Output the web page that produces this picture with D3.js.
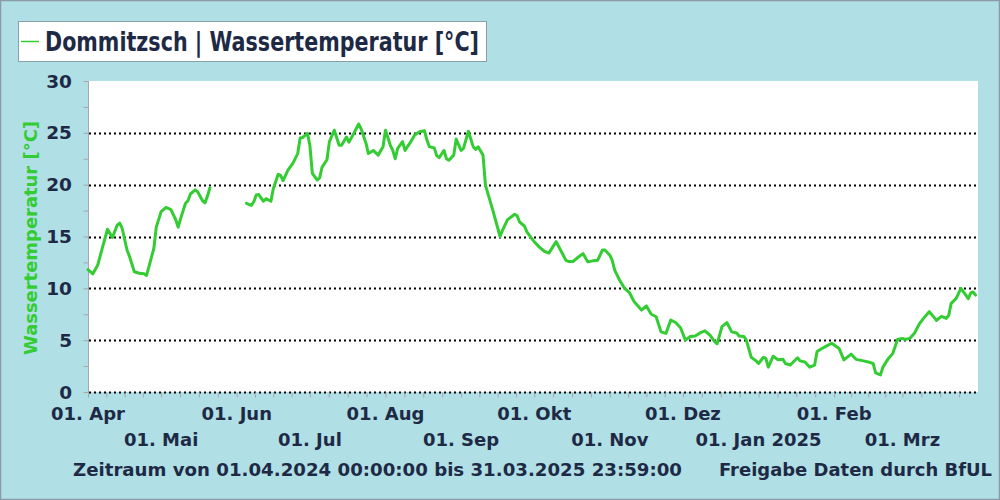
<!DOCTYPE html>
<html><head><meta charset="utf-8">
<script src="https://cdn.jsdelivr.net/npm/d3@7"></script>
<style>html,body{margin:0;padding:0;background:#fff;}svg{display:block;}</style>
</head><body>
<script>
const titleText = "Dommitzsch | Wassertemperatur [°C]";
const yAxisTitle = "Wassertemperatur [°C]";
const footerLeft = "Zeitraum von 01.04.2024 00:00:00 bis 31.03.2025 23:59:00";
const footerRight = "Freigabe Daten durch BfUL";
const yTicks = [0, 5, 10, 15, 20, 25, 30];
const monthTicks = ["2024-04-01","2024-05-01","2024-06-01","2024-07-01","2024-08-01","2024-09-01","2024-10-01","2024-11-01","2024-12-01","2025-01-01","2025-02-01","2025-03-01"];
const monthLabels = ["01. Apr","01. Mai","01. Jun","01. Jul","01. Aug","01. Sep","01. Okt","01. Nov","01. Dez","01. Jan 2025","01. Feb","01. Mrz"];
const dates = [
"2024-04-01","2024-04-03","2024-04-05","2024-04-07","2024-04-09","2024-04-11","2024-04-13","2024-04-14","2024-04-15","2024-04-17","2024-04-18","2024-04-20","2024-04-22","2024-04-24","2024-04-25","2024-04-26","2024-04-28","2024-04-29",
"2024-05-01","2024-05-03","2024-05-05","2024-05-07","2024-05-08","2024-05-09","2024-05-11","2024-05-12","2024-05-13","2024-05-15","2024-05-16","2024-05-18","2024-05-19","2024-05-20","2024-05-21","2024-05-22",
"2024-06-05","2024-06-07","2024-06-08","2024-06-09","2024-06-10","2024-06-12","2024-06-13","2024-06-15","2024-06-16","2024-06-18","2024-06-19","2024-06-20","2024-06-22","2024-06-24","2024-06-26","2024-06-27","2024-06-28","2024-06-30",
"2024-07-01","2024-07-02","2024-07-04","2024-07-05","2024-07-06","2024-07-08","2024-07-09","2024-07-11","2024-07-13","2024-07-14","2024-07-16","2024-07-17","2024-07-19","2024-07-21","2024-07-22","2024-07-24","2024-07-25","2024-07-27","2024-07-29","2024-07-31",
"2024-08-01","2024-08-03","2024-08-04","2024-08-05","2024-08-06","2024-08-08","2024-08-09","2024-08-11","2024-08-13","2024-08-15","2024-08-17","2024-08-18","2024-08-19","2024-08-21","2024-08-22","2024-08-23","2024-08-25","2024-08-26","2024-08-27","2024-08-29","2024-08-30",
"2024-09-01","2024-09-02","2024-09-04","2024-09-06","2024-09-07","2024-09-08","2024-09-10","2024-09-11","2024-09-14","2024-09-17","2024-09-18","2024-09-20","2024-09-23","2024-09-24","2024-09-25","2024-09-27","2024-09-28","2024-09-30",
"2024-10-01","2024-10-03","2024-10-05","2024-10-07","2024-10-10","2024-10-12","2024-10-14","2024-10-15","2024-10-17","2024-10-19","2024-10-21","2024-10-23","2024-10-25","2024-10-27","2024-10-29","2024-10-30",
"2024-11-01","2024-11-02","2024-11-03","2024-11-05","2024-11-07","2024-11-09","2024-11-11","2024-11-14","2024-11-16","2024-11-18","2024-11-20","2024-11-22","2024-11-24","2024-11-26","2024-11-28","2024-11-30",
"2024-12-02","2024-12-04","2024-12-06","2024-12-08","2024-12-10","2024-12-12","2024-12-14","2024-12-15","2024-12-17","2024-12-19","2024-12-21","2024-12-23","2024-12-24","2024-12-26","2024-12-27","2024-12-29","2024-12-31",
"2025-01-01","2025-01-03","2025-01-04","2025-01-05","2025-01-07","2025-01-09","2025-01-11","2025-01-12","2025-01-14","2025-01-17","2025-01-18","2025-01-20","2025-01-22","2025-01-24","2025-01-25","2025-01-27","2025-01-29","2025-01-31",
"2025-02-03","2025-02-05","2025-02-08","2025-02-10","2025-02-13","2025-02-15","2025-02-17","2025-02-18","2025-02-20","2025-02-21","2025-02-23","2025-02-25","2025-02-27",
"2025-03-01","2025-03-02","2025-03-04","2025-03-06","2025-03-08","2025-03-10","2025-03-12","2025-03-14","2025-03-15","2025-03-17","2025-03-19","2025-03-20","2025-03-21","2025-03-23","2025-03-25","2025-03-27","2025-03-28","2025-03-29","2025-03-30","2025-03-31"
];
const temps = [
11.8,11.4,12.25,14.0,15.7,14.9,16.1,16.3,15.8,13.7,13.1,11.6,11.45,11.4,11.25,12.1,13.85,15.9,
17.4,17.8,17.6,16.6,15.9,16.75,18.2,18.45,19.1,19.5,19.3,18.45,18.25,18.9,19.7,null,
18.2,18.0,18.35,19.0,19.05,18.4,18.65,18.4,19.6,21.0,20.9,20.4,21.4,22.05,23.0,24.5,24.55,24.95,
23.8,21.1,20.45,20.65,21.7,22.4,24.15,25.25,23.8,23.8,24.6,24.1,24.95,25.85,25.4,24.0,23.0,23.3,22.85,23.65,
25.25,23.8,23.3,22.5,23.5,24.15,23.3,24.0,24.8,25.1,25.2,24.3,23.65,23.55,22.8,22.6,23.3,22.5,22.35,22.85,24.4,
23.3,23.5,25.15,23.65,23.4,23.65,22.85,19.95,17.55,15.0,15.6,16.6,17.15,17.0,16.4,16.0,15.45,14.8,
14.5,14.0,13.6,13.4,14.5,13.6,12.7,12.6,12.6,13.0,13.35,12.55,12.65,12.7,13.7,13.7,
13.2,12.7,11.75,10.8,10.0,9.6,8.7,7.9,8.3,7.5,7.26,5.8,5.65,6.95,6.7,6.2,
5.0,5.35,5.4,5.7,5.9,5.5,4.85,4.65,6.3,6.7,5.8,5.7,5.4,5.35,5.0,3.35,3.0,
2.75,3.35,3.25,2.4,3.45,3.1,3.15,2.75,2.6,3.3,3.0,2.9,2.4,2.6,3.9,4.2,4.45,4.7,
4.2,3.1,3.65,3.15,3.0,2.9,2.75,1.85,1.65,2.4,3.15,3.7,5.07,
5.17,5.07,5.17,5.7,6.6,7.2,7.75,7.2,6.9,7.3,7.1,7.4,8.55,9.0,10.0,9.35,9.0,9.55,9.65,9.35
];

const W = 1000, H = 500;
const textColor = "#1e2a45";
const green = "#33cc33";
const parse = d3.utcParse("%Y-%m-%d");
const data = dates.map((d, i) => ({ t: parse(d), v: temps[i] }));

const svg = d3.select("body").append("svg").attr("width", W).attr("height", H);
svg.append("rect").attr("x", 0.5).attr("y", 0.5).attr("width", W - 1).attr("height", H - 1)
  .attr("fill", "#b0dfe5").attr("stroke", "#8c9ba8").attr("stroke-width", 1.5);

const x = d3.scaleUtc().domain([parse("2024-04-01"), d3.utcParse("%Y-%m-%dT%H:%M")("2025-03-31T23:59")]).range([88, 978]);
const y = d3.scaleLinear().domain([0, 30]).range([392, 81]);

// plot area
svg.append("rect").attr("x", 88).attr("y", 81).attr("width", 890).attr("height", 311).attr("fill", "#fff");

// gridlines
svg.append("g").selectAll("line").data(yTicks.filter(v => v < 30)).join("line")
  .attr("x1", 89).attr("x2", 978).attr("y1", d => Math.round(y(d)) + 0.5).attr("y2", d => Math.round(y(d)) + 0.5)
  .attr("stroke", "#000").attr("stroke-width", 2).attr("stroke-dasharray", "2,3");

// y axis
const yMinor = d3.range(0, 30.1, 2.5);
const yAxis = d3.axisLeft(y).tickValues(yMinor).tickSize(5).tickFormat("");
const gy = svg.append("g").attr("transform", "translate(88.5,0)").call(yAxis);
gy.selectAll("path,line").attr("stroke", "#a8a8a8");
gy.select(".domain").attr("d", `M0,${y(30)}V${y(0)}`);

svg.append("g").selectAll("text").data(yTicks).join("text")
  .attr("x", 72).attr("y", d => y(d) + 6.5).attr("text-anchor", "end")
  .attr("font-family", "DejaVu Sans").attr("font-weight", "bold").attr("font-size", 18.5)
  .attr("fill", textColor).text(d => d);

// x axis ticks (quarter months)
const xMinor = [];
monthTicks.forEach((m, i) => {
  const s = parse(m);
  const e = i + 1 < monthTicks.length ? parse(monthTicks[i + 1]) : parse("2025-04-01");
  for (let k = 0; k < 4; k++) xMinor.push(new Date(+s + (e - s) * k / 4));
});
const xAxis = d3.axisBottom(x).tickValues(xMinor).tickSize(5).tickFormat("");
const gx = svg.append("g").attr("transform", "translate(0,392.5)").call(xAxis);
gx.selectAll("path,line").attr("stroke", "#a8a8a8");
gx.select(".domain").remove();

svg.append("g").selectAll("text").data(monthTicks).join("text")
  .attr("x", d => x(parse(d))).attr("y", (d, i) => i % 2 === 0 ? 420 : 446)
  .attr("text-anchor", "middle")
  .attr("font-family", "DejaVu Sans").attr("font-weight", "bold").attr("font-size", 18)
  .attr("fill", textColor).text((d, i) => monthLabels[i]);

// line
const line = d3.line().defined(d => d.v != null).x(d => x(d.t)).y(d => y(d.v)).curve(d3.curveLinear);
svg.append("path").datum(data).attr("d", line).attr("fill", "none")
  .attr("stroke", green).attr("stroke-width", 3).attr("stroke-linejoin", "round").attr("stroke-linecap", "round");

// y title
svg.append("text").attr("transform", "translate(37,238) rotate(-90)").attr("text-anchor", "middle")
  .attr("font-family", "DejaVu Sans").attr("font-weight", "bold").attr("font-size", 18.5)
  .attr("fill", green).attr("textLength", 234).attr("lengthAdjust", "spacingAndGlyphs").text(yAxisTitle);

// title box
svg.append("rect").attr("x", 18.5).attr("y", 21.5).attr("width", 468).attr("height", 40)
  .attr("fill", "#fff").attr("stroke", "#8aa0a8").attr("stroke-width", 1);
svg.append("line").attr("x1", 21).attr("x2", 39).attr("y1", 41.5).attr("y2", 41.5).attr("stroke", green).attr("stroke-width", 1.5);
svg.append("text").attr("x", 45).attr("y", 51).attr("font-family", "DejaVu Sans").attr("font-weight", "bold")
  .attr("font-size", 26.5).attr("fill", textColor).attr("textLength", 434).attr("lengthAdjust", "spacingAndGlyphs").text(titleText);

// footer
svg.append("text").attr("x", 73).attr("y", 476).attr("font-family", "DejaVu Sans").attr("font-weight", "bold")
  .attr("font-size", 18.5).attr("fill", textColor).attr("textLength", 609).attr("lengthAdjust", "spacingAndGlyphs").text(footerLeft);
svg.append("text").attr("x", 719).attr("y", 476).attr("font-family", "DejaVu Sans").attr("font-weight", "bold")
  .attr("font-size", 18.5).attr("fill", textColor).attr("textLength", 273).attr("lengthAdjust", "spacingAndGlyphs").text(footerRight);
</script>
</body></html>
